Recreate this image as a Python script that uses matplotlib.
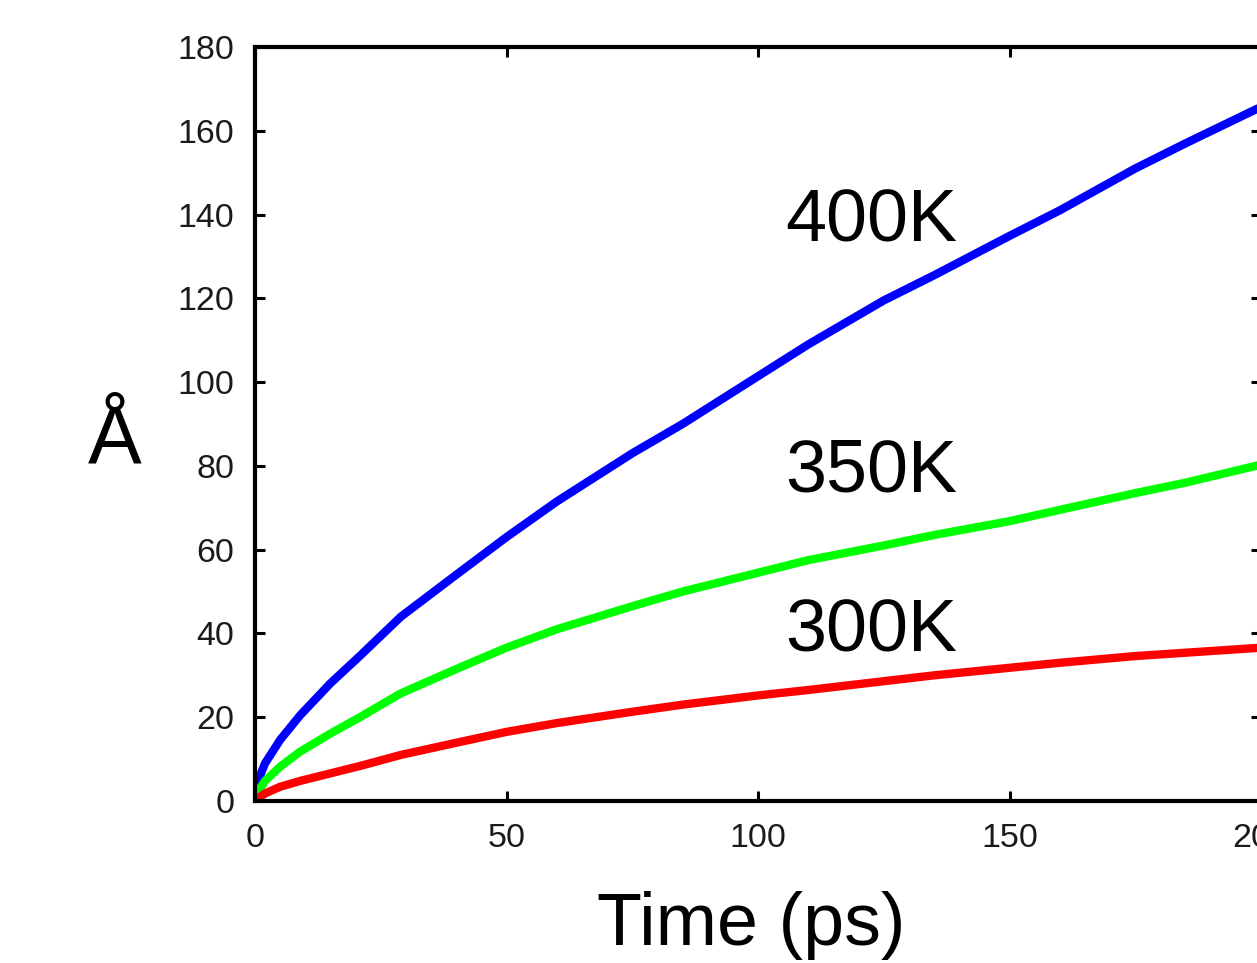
import matplotlib
matplotlib.use("Agg")
import matplotlib.pyplot as plt

# time (ps)
time_ps = [0, 1, 2, 5, 9, 15, 21, 29, 40, 50, 60, 75, 85, 100, 110, 125, 135, 150, 160, 175, 185, 200]
# displacement (Å)
msd_400K = [0, 6.0, 9.0, 14.6, 20.5, 28.1, 34.8, 44.0, 54.0, 63.0, 71.5, 83.0, 90.0, 101.4, 109.0,
            119.5, 125.5, 134.9, 141.0, 151.0, 157.0, 165.7]
msd_350K = [0, 3.0, 4.8, 8.2, 11.8, 16.1, 20.1, 25.7, 31.5, 36.6, 41.0, 46.5, 50.0, 54.5, 57.5,
            61.0, 63.5, 66.8, 69.5, 73.5, 76.0, 80.3]
msd_300K = [0, 1.0, 1.8, 3.4, 4.8, 6.6, 8.4, 11.0, 13.9, 16.5, 18.6, 21.3, 23.0, 25.2, 26.5,
            28.6, 30.0, 31.8, 33.0, 34.6, 35.4, 36.6]

series_labels = ["400K", "350K", "300K"]
x_ticks = [0, 50, 100, 150, 200]
y_ticks = [0, 20, 40, 60, 80, 100, 120, 140, 160, 180]

plt.rcParams['font.family'] = ['Liberation Sans', 'DejaVu Sans']

fig = plt.figure(figsize=(12.57, 9.63), dpi=100)
ax = fig.add_axes([255/1257, 162/963, 1006/1257, 754/963])

lw = 6.0
ax.plot(time_ps, msd_400K, color='#0000ff', lw=lw, solid_capstyle='round', solid_joinstyle='round')
ax.plot(time_ps, msd_350K, color='#00ff00', lw=lw, solid_capstyle='round', solid_joinstyle='round')
ax.plot(time_ps, msd_300K, color='#ff0000', lw=lw, solid_capstyle='round', solid_joinstyle='round')

ax.set_xlim(0, 200)
ax.set_ylim(0, 180)
ax.set_xticks(x_ticks)
ax.set_yticks(y_ticks)
ax.tick_params(direction='in', length=7.5, width=2.2, top=True, right=True,
               labelsize=24.5, labelcolor='#1a1a1a')
ax.tick_params(axis='y', pad=15)
ax.tick_params(axis='x', pad=16)
for s in ax.spines.values():
    s.set_linewidth(3.0)

label_y = [133.5, 73.8, 35.6]
for lab, yy in zip(series_labels, label_y):
    ax.text(105.4, yy, lab, fontsize=53, ha='left', va='baseline', color='black')

fig.text(751.5/1257, (963-945)/963, "Time (ps)", fontsize=53, ha='center', va='baseline')
fig.text(115/1257, (963-462.7)/963, "Å", fontsize=58, ha='center', va='baseline')

fig.savefig("out.png", dpi=100)
